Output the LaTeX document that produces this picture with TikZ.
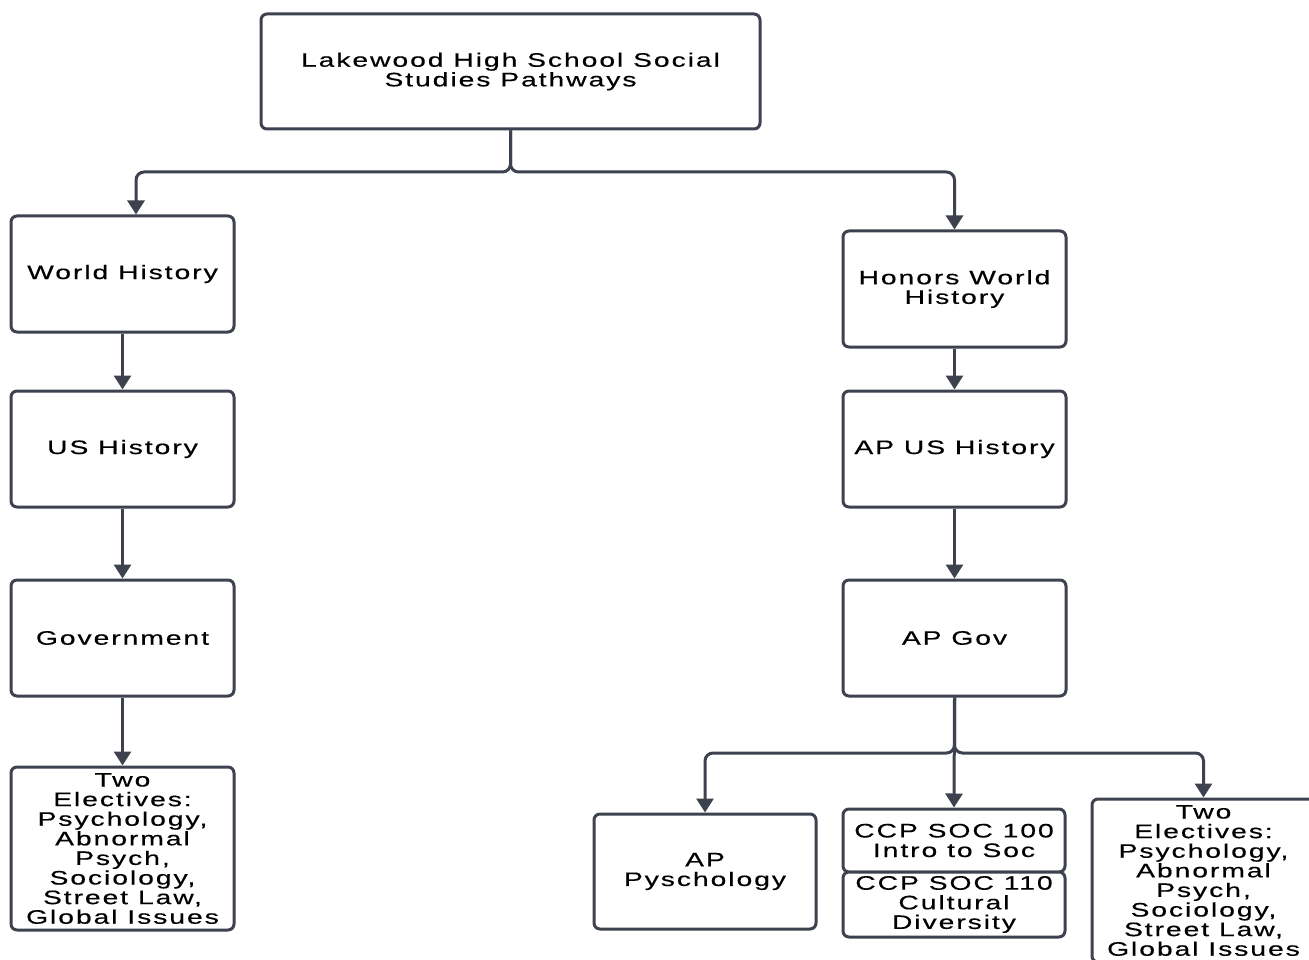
\documentclass[tikz,border=0pt]{standalone}
\usepackage{fontspec}
\setmainfont{Liberation Sans}[FakeStretch=1.45,LetterSpace=10,FakeBold=0.4]
\usetikzlibrary{arrows.meta}

\definecolor{edgegray}{RGB}{61,66,78}

\tikzset{
  box/.style={draw=edgegray, line width=3, rounded corners=6, fill=white,
    align=center, inner sep=0, font=\fontsize{19.5}{19.6}\selectfont},
  conn/.style={draw=edgegray, line width=3, rounded corners=8,
    -{Triangle[width=17,length=14]}}
}

\begin{document}
\begin{tikzpicture}[x=1pt,y=1pt,yscale=-1]
\useasboundingbox[fill=white] (0,0) rectangle (1309,960);

% title box
\node[box, minimum width=499, minimum height=115] (top) at (510.5,71.5) {Lakewood High School Social\\Studies Pathways};

% standard pathway
\node[box, minimum width=223, minimum height=116] (wh) at (122.5,274) {World History};
\node[box, minimum width=223, minimum height=116] (ush) at (122.5,449) {US History};
\node[box, minimum width=223, minimum height=116] (gov) at (122.5,638) {Government};
\node[box, minimum width=223, minimum height=163] (elecL) at (122.5,848.5) {Two\\Electives:\\Psychology,\\Abnormal\\Psych,\\Sociology,\\Street Law,\\Global Issues};

% honors pathway
\node[box, minimum width=223, minimum height=116] (hwh) at (954.5,289) {Honors World\\History};
\node[box, minimum width=223, minimum height=116] (apush) at (954.5,449) {AP US History};
\node[box, minimum width=223, minimum height=116] (apgov) at (954.5,638) {AP Gov};
\node[box, minimum width=222, minimum height=115] (appsy) at (705,871.5) {AP\\Pyschology};
\node[box, minimum width=222, minimum height=63] (soc100) at (954,840.5) {CCP SOC 100\\Intro to Soc};
\node[box, minimum width=222, minimum height=65] (soc110) at (954,904.5) {CCP SOC 110\\Cultural\\Diversity};
\node[box, minimum width=223, minimum height=163] (elecR) at (1203.5,880.5) {Two\\Electives:\\Psychology,\\Abnormal\\Psych,\\Sociology,\\Street Law,\\Global Issues};

% split points
\coordinate (split) at (510.5,172);
\coordinate (split2) at (954.5,753);

% connectors
\draw[conn] (top.south) -- (split) -| ([xshift=13.5]wh.north);
\draw[conn] (top.south) -- (split) -| (hwh.north);
\draw[conn] (wh) -- (ush);
\draw[conn] (ush) -- (gov);
\draw[conn] (gov) -- (elecL);
\draw[conn] (hwh) -- (apush);
\draw[conn] (apush) -- (apgov);
\draw[conn] (apgov.south) -- (split2) -| (appsy.north);
\draw[conn] (apgov.south) -- (soc100.north);
\draw[conn] (apgov.south) -- (split2) -| (elecR.north);
\end{tikzpicture}
\end{document}
